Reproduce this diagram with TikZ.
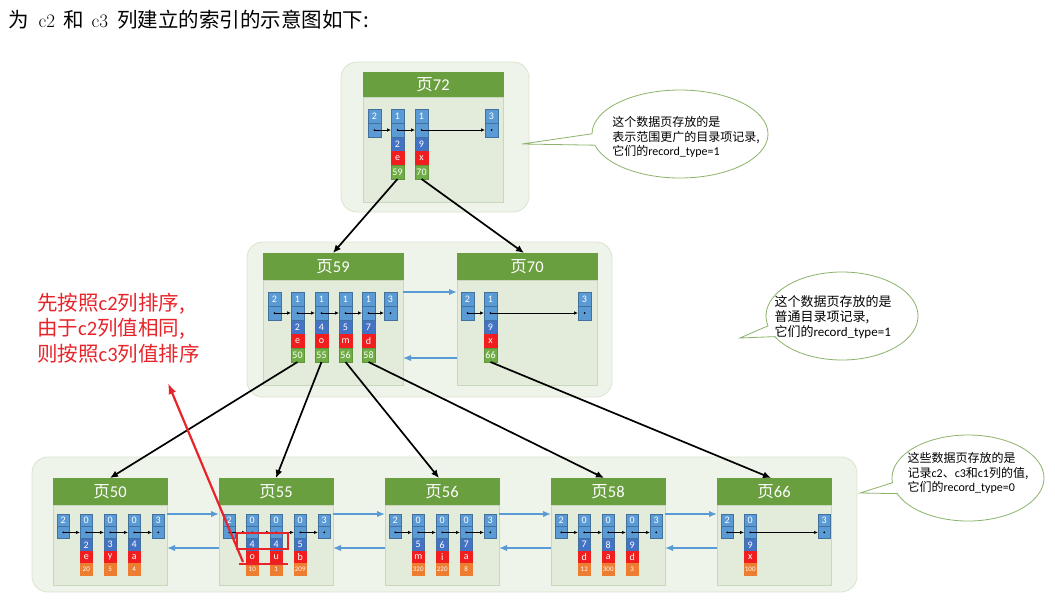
\documentclass[tikz,border=0pt]{standalone}
\usepackage{fontspec}
\newfontfamily\carl{Carlito}
\newfontfamily\cjk{Noto Sans CJK SC}
\usetikzlibrary{arrows.meta,shapes.callouts}
\definecolor{grpfill}{HTML}{EFF4EA}
\definecolor{grpdraw}{HTML}{D9E4CF}
\definecolor{bodyfill}{HTML}{E3EBDA}
\definecolor{bodydraw}{HTML}{C9D7BD}
\definecolor{headfill}{HTML}{6A9F3F}
\definecolor{blueL}{HTML}{5B9BD5}
\definecolor{blueD}{HTML}{4472C4}
\definecolor{cellborder}{HTML}{41719C}
\definecolor{redC}{HTML}{F01E1E}
\definecolor{greenC}{HTML}{70AD47}
\definecolor{greenB}{HTML}{5E9639}
\definecolor{orangeC}{HTML}{ED7D31}
\definecolor{arrowblue}{HTML}{5B9BD5}
\definecolor{calloutdraw}{HTML}{8DB36A}
\definecolor{annred}{HTML}{E8242B}
\tikzset{
  cellsz/.style={minimum width=13pt, minimum height=14pt},
  cell/.style={cellsz, inner sep=0pt, outer sep=0pt, draw=cellborder, line width=0.4pt,
    text=white, font=\carl\fontsize{10}{11}\selectfont, anchor=north west},
  topc/.style={cell, fill=blueL},
  numc/.style={cell, fill=blueD},
  chc/.style={cell, fill=redC, draw=redC},
  valg/.style={cell, fill=greenC, draw=greenB},
  valo/.style={cell, fill=orangeC, draw=orangeC, font=\carl\fontsize{7}{7}\selectfont},
  grp/.style={fill=grpfill, draw=grpdraw, line width=0.8pt, rounded corners=16pt},
  pghead/.style={anchor=north west, fill=headfill, draw=headfill, text=white, inner sep=0pt,
    outer sep=0pt, font=\carl\fontsize{16.5}{18}\selectfont},
  pgbody/.style={anchor=north west, fill=bodyfill, draw=bodydraw, line width=0.5pt, inner sep=0pt, outer sep=0pt},
  recarrow/.style={line width=0.7pt, -{Latex[length=4pt,width=3.5pt]}},
  treearrow/.style={line width=1.7pt, -{Latex[length=8pt,width=7pt]}},
  bluearrow/.style={draw=arrowblue, line width=1.5pt, -{Latex[length=8pt,width=6.5pt]}},
  bubble/.style={ellipse callout, draw=calloutdraw, fill=white, line width=0.8pt, inner sep=0pt},
  bubtext/.style={align=left, inner sep=0pt, font=\carl\fontsize{12}{14.5}\selectfont},
}
\newcommand\recS[4]{%
  \node[topc] (#1t) at (#2,#3) {#4};
  \node[topc] (#1d) at (#1t.south west) {};
  \fill (#1d.center) circle (1pt);}
\newcommand\recL[8]{%
  \recS{#1}{#2}{#3}{#4}
  \node[numc] (#1n) at (#1d.south west) {#5};
  \node[chc] (#1c) at (#1n.south west) {#6};
  \node[#8] (#1v) at (#1c.south west) {#7};}
\newcommand\pg[7]{%
  \node[pghead, minimum width=#4pt, minimum height=#5pt] (#1h) at (#2,#3) {{\cjk 页}#7};
  \node[pgbody, minimum width=#4pt, minimum height=#6pt] (#1b) at (#1h.south west) {};}
\newcommand\lmc[1]{{\rmfamily\fontsize{19}{21}\selectfont #1}}
\begin{document}
\begin{tikzpicture}[x=1pt,y=-1pt]
\useasboundingbox[fill=white] (0,0) rectangle (1055,603);

% heading
\node[anchor=west, inner sep=0pt, font=\fontsize{20.5}{22}\selectfont] (title) at (8,20)
  {{\cjk 为}\hspace{10pt}\lmc{c2}\hspace{8pt}{\cjk 和}\hspace{8pt}\lmc{c3}\hspace{9pt}{\cjk 列建立的索引的示意图如下:}};

% groups
\path[grp] (341,62) rectangle (529,212);
\path[grp] (247,242) rectangle (612,397);
\path[grp] (32,457) rectangle (857,592);

% top page
\pg{p72}{363}{72}{140}{25}{105}{72}
\recS{a1}{368}{109}{2}
\recL{a2}{391}{109}{1}{2}{e}{59}{valg}
\recL{a3}{415}{109}{1}{9}{x}{70}{valg}
\recS{a4}{485}{109}{3}
\draw[recarrow] (a1d.center) -- (a2d.west);
\draw[recarrow] (a2d.center) -- (a3d.west);
\draw[recarrow] (a3d.center) -- (a4d.west);

% middle pages
\pg{p59}{263}{253}{140}{27}{105}{59}
\pg{p70}{457}{253}{140}{27}{105}{70}
\recS{b1}{268}{292}{2}
\recL{b2}{291}{292}{1}{2}{e}{50}{valg}
\recL{b3}{315}{292}{1}{4}{o}{55}{valg}
\recL{b4}{339}{292}{1}{5}{m}{56}{valg}
\recL{b5}{362}{292}{1}{7}{d}{58}{valg}
\recS{b6}{384}{292}{3}
\draw[recarrow] (b1d.center) -- (b2d.west);
\draw[recarrow] (b2d.center) -- (b3d.west);
\draw[recarrow] (b3d.center) -- (b4d.west);
\draw[recarrow] (b4d.center) -- (b5d.west);
\draw[recarrow] (b5d.center) -- (b6d.west);
\recS{c1}{461}{292}{2}
\recL{c2}{484}{292}{1}{9}{x}{66}{valg}
\recS{c3}{578}{292}{3}
\draw[recarrow] (c1d.center) -- (c2d.west);
\draw[recarrow] (c2d.center) -- (c3d.west);
\draw[bluearrow] ([yshift=-12pt]p59b.north east) -- ([yshift=-12pt]p70b.north west);
\draw[bluearrow] ([yshift=-78pt]p70b.north west) -- ([yshift=-78pt]p59b.north east);

% bottom pages
\begin{scope}[cellsz/.style={minimum width=12.5pt, minimum height=12.3pt}]
\pg{p50}{53}{478}{114}{27}{80}{50}
\pg{p55}{219}{478}{114}{27}{80}{55}
\pg{p56}{385}{478}{114}{27}{80}{56}
\pg{p58}{551}{478}{114}{27}{80}{58}
\pg{p66}{717}{478}{114}{27}{80}{66}
\recS{d1}{57}{514}{2}
\recL{d2}{80}{514}{0}{2}{e}{20}{valo}
\recL{d3}{104}{514}{0}{3}{y}{5}{valo}
\recL{d4}{128}{514}{0}{4}{a}{4}{valo}
\recS{d5}{152}{514}{3}
\recS{e1}{223}{514}{2}
\recL{e2}{246}{514}{0}{4}{o}{10}{valo}
\recL{e3}{270}{514}{0}{4}{u}{1}{valo}
\recL{e4}{294}{514}{0}{5}{b}{209}{valo}
\recS{e5}{318}{514}{3}
\recS{f1}{389}{514}{2}
\recL{f2}{412}{514}{0}{5}{m}{320}{valo}
\recL{f3}{436}{514}{0}{6}{i}{220}{valo}
\recL{f4}{460}{514}{0}{7}{a}{8}{valo}
\recS{f5}{484}{514}{3}
\recS{g1}{555}{514}{2}
\recL{g2}{578}{514}{0}{7}{d}{12}{valo}
\recL{g3}{602}{514}{0}{8}{a}{300}{valo}
\recL{g4}{626}{514}{0}{9}{d}{3}{valo}
\recS{g5}{650}{514}{3}
\recS{h1}{721}{514}{2}
\recL{h2}{744}{514}{0}{9}{x}{100}{valo}
\recS{h3}{818}{514}{3}
\end{scope}
\foreach \p in {d,e,f,g}{
  \draw[recarrow] (\p1d.center) -- (\p2d.west);
  \draw[recarrow] (\p2d.center) -- (\p3d.west);
  \draw[recarrow] (\p3d.center) -- (\p4d.west);
  \draw[recarrow] (\p4d.center) -- (\p5d.west);
}
\draw[recarrow] (h1d.center) -- (h2d.west);
\draw[recarrow] (h2d.center) -- (h3d.west);
\foreach \a/\b in {p50/p55,p55/p56,p56/p58,p58/p66}{
  \draw[bluearrow] ([yshift=-9pt]\a b.north east) -- ([yshift=-9pt]\b b.north west);
  \draw[bluearrow] ([yshift=-43pt]\b b.north west) -- ([yshift=-43pt]\a b.north east);
}

% tree arrows
\draw[treearrow] (a2v.south) -- (p59h.north);
\draw[treearrow] (a3v.south) -- ([xshift=-3pt]p70h.north);
\draw[treearrow] (b2v.south) -- (p50h.north);
\draw[treearrow] (b3v.south) -- (p55h.north);
\draw[treearrow] (b4v.south) -- ([xshift=-3pt]p56h.north);
\draw[treearrow] (b5v.south) -- ([xshift=-4pt]p58h.north);
\draw[treearrow] (c2v.south) -- ([xshift=-3pt]p66h.north);

% callouts
\node[bubble, minimum width=176pt, minimum height=88pt, callout absolute pointer={(522,144)}] (k1) at (680,134) {};
\node[bubtext] (k1t) at (686,137) {{\cjk 这个数据页存放的是}\\{\cjk 表示范围更广的目录项记录,}\\{\cjk 它们的}record\_type=1};
\node[bubble, minimum width=152pt, minimum height=88pt, callout absolute pointer={(740,338)}] (k2) at (842,316) {};
\node[bubtext, font=\carl\fontsize{13}{14.8}\selectfont] (k2t) at (833,317) {{\cjk 这个数据页存放的是}\\{\cjk 普通目录项记录,}\\{\cjk 它们的}record\_type=1};
\node[bubble, minimum width=152pt, minimum height=86pt, callout absolute pointer={(860,493)}] (k3) at (968,478) {};
\node[bubtext] (k3t) at (968,473) {{\cjk 这些数据页存放的是}\\{\cjk 记录}c2{\cjk 、}c3{\cjk 和}c1{\cjk 列的值,}\\{\cjk 它们的}record\_type=0};

% red annotation
\node[anchor=west, align=left, inner sep=0pt, text=annred, font=\carl\fontsize{20.5}{25.5}\selectfont] (note) at (37,328)
  {{\cjk 先按照}c2{\cjk 列排序,}\\{\cjk 由于}c2{\cjk 列值相同,}\\{\cjk 则按照}c3{\cjk 列值排序}};
\coordinate (bx1) at (237,533);
\coordinate (bx2) at (288,549);
\draw[annred, line width=1.5pt] (bx1) rectangle (bx2);
\coordinate (ul1) at (239,564);
\coordinate (ul2) at (288,564);
\draw[annred, line width=1.5pt] (ul1) -- (ul2);
\coordinate (ra1) at (243,562);
\coordinate (ra2) at (168,383);
\draw[annred, line width=2.2pt, -{Latex[length=11pt,width=8pt]}] (ra1) -- (ra2);
\end{tikzpicture}
\end{document}
